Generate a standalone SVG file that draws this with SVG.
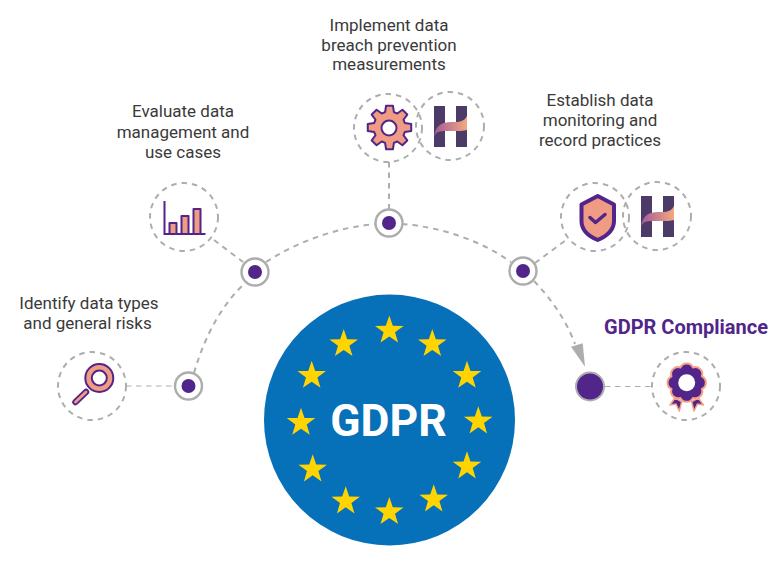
<svg xmlns="http://www.w3.org/2000/svg" xmlns:xlink="http://www.w3.org/1999/xlink" width="780" height="569" viewBox="0 0 780 569">
<style>
text{font-family:Roboto,"Liberation Sans",sans-serif;font-size:17px;fill:#3a3a3a;text-anchor:middle}
.dash{fill:none;stroke:#adadad;stroke-width:2;stroke-dasharray:5.5 5}
.thin{fill:none;stroke:#adadad;stroke-width:1.2;stroke-dasharray:5.5 4.5}
.ring{fill:#fff;stroke:#adadad;stroke-width:2.4}
.dot{fill:#51258a}
.ico{fill:#f09b83;stroke:#51258a;stroke-width:2;stroke-linejoin:round}
.hbar{fill:#4c3a68}
</style>
<defs>
<linearGradient id="wave" x1="0" x2="1" y1="0" y2="0"><stop offset="0" stop-color="#a05a98"/><stop offset="1" stop-color="#f4a880"/></linearGradient>
<polygon id="star" fill="#ffd400" points="0,-15 3.5,-4.8 14.3,-4.6 5.7,1.8 8.8,12.1 0,6 -8.8,12.1 -5.7,1.8 -14.3,-4.6 -3.5,-4.8"/>
<g id="hlogo">
<rect class="hbar" x="-17" y="-21" width="11" height="41"/>
<rect class="hbar" x="5" y="-21" width="11" height="41"/>
<path d="M-17 10C-16 -2 -8 -5 0 -5C8 -5 13 -5 16 -11V3C13 4 8 4 0 4C-8 4 -15 3 -17 10Z" fill="url(#wave)"/>
</g>
</defs>
<g id="connectors">
<path class="thin" d="M126 386H175"/>
<path class="dash" d="M194 373C205 335 222 305 244 284"/>
<path class="dash" d="M266 262C300 240 340 227 376 224"/>
<path class="dash" d="M402 224C440 227 480 240 511 262"/>
<path class="dash" d="M534 281C552 300 566 320 575 344"/>
<polygon points="571,346.700 582.700,343.300 585,366.700" fill="#adadad"/>
<path class="dash" d="M214 240L243 262"/>
<path class="dash" d="M389 162V210"/>
<path class="dash" d="M535 263L566 240"/>
<path class="thin" d="M605 386.500H652"/>
</g>
<g id="gdpr">
<circle cx="389.500" cy="420" r="125.500" fill="#0670b8"/>
<use xlink:href="#star" href="#star" x="389.300" y="330.500"/>
<use xlink:href="#star" href="#star" x="343.700" y="344"/>
<use xlink:href="#star" href="#star" x="432.300" y="344"/>
<use xlink:href="#star" href="#star" x="311.700" y="375.700"/>
<use xlink:href="#star" href="#star" x="467" y="375.700"/>
<use xlink:href="#star" href="#star" x="301" y="422.700"/>
<use xlink:href="#star" href="#star" x="478.300" y="421.300"/>
<use xlink:href="#star" href="#star" x="312.700" y="469.300"/>
<use xlink:href="#star" href="#star" x="467" y="466.300"/>
<use xlink:href="#star" href="#star" x="345.700" y="501.300"/>
<use xlink:href="#star" href="#star" x="433.700" y="499.300"/>
<use xlink:href="#star" href="#star" x="389.300" y="512"/>
<text x="388.500" y="436" style="font-size:44.500px;font-weight:700;fill:#fff">GDPR</text>
</g>
<g id="node-identify">
<circle class="ring" cx="188.500" cy="386" r="13.500"/><circle class="dot" cx="188.500" cy="386" r="7"/>
<circle class="dash" cx="92" cy="386" r="34"/>
<circle class="ico" cx="99.300" cy="378" r="14"/><circle cx="99.300" cy="378" r="7.500" fill="#fff" stroke="#51258a" stroke-width="2"/>
<path d="M86 392L75.500 402" stroke="#51258a" stroke-width="6.500" stroke-linecap="round"/><path d="M86 392L75.500 402" stroke="#f09b83" stroke-width="2.800" stroke-linecap="round"/>
<text x="89" y="309">Identify data types</text><text x="87.500" y="329">and general risks</text>
</g>
<g id="node-evaluate">
<circle class="ring" cx="255" cy="272" r="13.500"/><circle class="dot" cx="255" cy="272" r="7"/>
<circle class="dash" cx="184" cy="217" r="34"/>
<rect class="ico" x="169.500" y="223" width="7" height="11"/><rect class="ico" x="181.500" y="216" width="7" height="18"/><rect class="ico" x="193.500" y="209" width="7" height="25"/>
<path d="M164.500 201V234H205.500" fill="none" stroke="#51258a" stroke-width="2"/>
<text x="183" y="117">Evaluate data</text><text x="183" y="138">management and</text><text x="183" y="158">use cases</text>
</g>
<g id="node-implement">
<circle class="ring" cx="389" cy="223" r="13.500"/><circle class="dot" cx="389" cy="223" r="7"/>
<circle class="dash" cx="388" cy="128" r="34"/>
<circle class="dash" cx="450" cy="126" r="34"/>
<path class="ico" transform="translate(389.500,127.500)" stroke-width="2.500" d="M-4.410-15.380L-3.440-21.730L3.440-21.730L4.410-15.380L7.760-13.990L12.930-17.800L17.800-12.930L13.990-7.760L15.380-4.410L21.730-3.440L21.730,3.440L15.380,4.410L13.990,7.760L17.800,12.930L12.930,17.800L7.760,13.990L4.410,15.380L3.440,21.730L-3.440,21.730L-4.410,15.380L-7.760,13.990L-12.930,17.800L-17.800,12.930L-13.990,7.760L-15.380,4.410L-21.730,3.440L-21.730-3.440L-15.380-4.410L-13.990-7.760L-17.800-12.930L-12.930-17.800L-7.760-13.990Z"/>
<circle cx="389" cy="128" r="7.500" fill="#fff" stroke="#51258a" stroke-width="2"/>
<use xlink:href="#hlogo" href="#hlogo" x="451" y="127"/>
<text x="389" y="31">Implement data</text><text x="389" y="51">breach prevention</text><text x="389" y="70">measurements</text>
</g>
<g id="node-establish">
<circle class="ring" cx="523" cy="271" r="13.500"/><circle class="dot" cx="523" cy="271" r="7"/>
<circle class="dash" cx="595" cy="217" r="34"/>
<circle class="dash" cx="657" cy="216" r="34"/>
<path d="M597.700 196L581.500 204.500V221C581.500 230 588 236 597.700 240C607 236 614 230 614 221V204.500Z" fill="#f09b83" stroke="#51258a" stroke-width="4" stroke-linejoin="round"/>
<path d="M590 217.500L595.500 222.500L605 214.500" fill="none" stroke="#51258a" stroke-width="3.500" stroke-linecap="round" stroke-linejoin="round"/>
<use xlink:href="#hlogo" href="#hlogo" x="658" y="217"/>
<text x="600" y="106">Establish data</text><text x="600" y="126">monitoring and</text><text x="600" y="146">record practices</text>
</g>
<g id="node-compliance">
<circle cx="590" cy="386.500" r="14" fill="#51258a" stroke="#adadad" stroke-width="2"/>
<circle class="dash" cx="686" cy="386" r="34"/>
<path d="M675 398L681.700 401.700L679.300 411L676 404L670 405ZM698.400 398L691.700 401.700L694 411L697.400 404L703.400 405Z" fill="#51258a" stroke="#f4a088" stroke-width="1.500" stroke-linejoin="round"/>
<path transform="translate(686.700,382.700)" d="M6.300-15.200A7 7 0 0 1 15.200-6.300A7 7 0 0 1 15.200,6.300A7 7 0 0 1 6.300,15.200A7 7 0 0 1-6.300,15.200A7 7 0 0 1-15.200,6.300A7 7 0 0 1-15.200-6.300A7 7 0 0 1-6.300-15.200A7 7 0 0 1 6.300-15.200Z" fill="#51258a" stroke="#f4a088" stroke-width="2" stroke-linejoin="round"/>
<circle cx="686.700" cy="382.700" r="8.500" fill="#fff"/>
<text x="686" y="334" style="font-size:20px;font-weight:700;fill:#51258a">GDPR Compliance</text>
</g>
</svg>
